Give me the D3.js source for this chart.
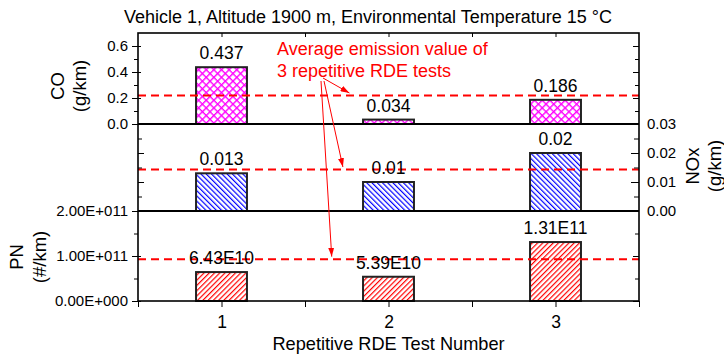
<!DOCTYPE html>
<html>
<head>
<meta charset="utf-8">
<script src="https://cdn.jsdelivr.net/npm/d3@7"></script>
<style>
  body { margin: 0; background: #fff; }
  text { font-family: "Liberation Sans", Arial, sans-serif; }
</style>
</head>
<body>
<div id="chart"></div>
<script>
// data
var testNumbers = [1, 2, 3];
var coValues = [0.437, 0.034, 0.186];
var noxValues = [0.013, 0.01, 0.02];
var pnValues = [6.43e10, 5.39e10, 1.31e11];
var coLabels = ["0.437", "0.034", "0.186"];
var noxLabels = ["0.013", "0.01", "0.02"];
var pnLabels = ["6.43E10", "5.39E10", "1.31E11"];
var averageValues = [0.219, 0.0143, 9.3e10];
var coTicks = [0, 0.2, 0.4, 0.6];
var noxTicks = [0, 0.01, 0.02, 0.03];
var pnTicks = [0, 1e11, 2e11];

var width = 724, height = 355;
var left = 138, right = 639;

var sci = function(v) {
    if (v === 0) return "0.00E+000";
    var e = Math.floor(Math.log10(v));
    return (v / Math.pow(10, e)).toFixed(2) + "E+" + String(e).padStart(3, "0");
};

var panels = [
    { id: "co", values: coValues, labels: coLabels, avg: averageValues[0], top: 33, bottom: 124,
      domain: [0, 0.7], ticks: coTicks, minor: [0.1, 0.3, 0.5], fmt: d3.format(".1f"), side: "left",
      pattern: "hatchCO", title: ["CO", "(g/km)"], titleX: [57, 79], titleY: 86 },
    { id: "nox", values: noxValues, labels: noxLabels, avg: averageValues[1], top: 124, bottom: 211,
      domain: [0, 0.03], ticks: noxTicks, minor: [0.005, 0.015, 0.025], fmt: d3.format(".2f"), side: "right",
      pattern: "hatchNOx", title: ["NOx", "(g/km)"], titleX: [692, 714], titleY: 166 },
    { id: "pn", values: pnValues, labels: pnLabels, avg: averageValues[2], top: 211, bottom: 301,
      domain: [0, 2e11], ticks: pnTicks, minor: [0.5e11, 1.5e11], fmt: sci, side: "left",
      pattern: "hatchPN", title: ["PN", "(#/km)"], titleX: [16, 39], titleY: 257 }
];

var svg = d3.select("#chart").append("svg")
    .attr("width", width)
    .attr("height", height);

var defs = svg.append("defs");

// hatch fills
var cross = defs.append("pattern")
    .attr("id", "hatchCO")
    .attr("patternUnits", "userSpaceOnUse")
    .attr("width", 5.4).attr("height", 5.4)
    .attr("patternTransform", "rotate(45)");
cross.append("rect").attr("width", 5.4).attr("height", 5.4).attr("fill", "#fff");
cross.append("path").attr("d", "M0,0 H5.4 M0,0 V5.4").attr("stroke", "#ff00ff").attr("stroke-width", 2.8);

var stripes = function(id, color, angle) {
    var p = defs.append("pattern")
        .attr("id", id)
        .attr("patternUnits", "userSpaceOnUse")
        .attr("width", 3.7).attr("height", 4)
        .attr("patternTransform", "rotate(" + angle + ")");
    p.append("rect").attr("width", 3.7).attr("height", 4).attr("fill", "#fff");
    p.append("path").attr("d", "M0,0 V4").attr("stroke", color).attr("stroke-width", 2.4);
};
stripes("hatchNOx", "#0000ff", -45);
stripes("hatchPN", "#ff0000", 45);

defs.append("marker")
    .attr("id", "arrow")
    .attr("markerUnits", "userSpaceOnUse")
    .attr("markerWidth", 9).attr("markerHeight", 6)
    .attr("refX", 9).attr("refY", 3)
    .attr("orient", "auto")
    .append("path")
    .attr("d", "M0,0 L9,3 L0,6 z")
    .attr("fill", "#ff0000");

var x = d3.scaleLinear().domain([0.5, 3.5]).range([left, right]);
var barW = (x(2) - x(1)) * 0.305;

svg.append("text")
    .attr("x", 368)
    .attr("y", 23)
    .attr("text-anchor", "middle")
    .attr("font-size", 18)
    .text("Vehicle 1, Altitude 1900 m, Environmental Temperature 15 \u00B0C");

var ticks = function(g, axisFn, xpos, values, size, fmt) {
    var a = g.append("g")
        .attr("transform", "translate(" + xpos + ",0)")
        .call(axisFn.tickValues(values).tickFormat(fmt || "").tickSize(size).tickSizeOuter(0));
    a.select(".domain").remove();
    return a;
};

panels.forEach(function(p) {
    var y = d3.scaleLinear().domain(p.domain).range([p.bottom, p.top]);
    p.y = y;
    var g = svg.append("g").attr("class", p.id);

    g.selectAll("rect.bar").data(p.values).enter().append("rect")
        .attr("class", "bar")
        .attr("x", function(d, i) { return x(testNumbers[i]) - barW / 2; })
        .attr("y", function(d) { return y(d); })
        .attr("width", barW)
        .attr("height", function(d) { return y(0) - y(d); })
        .attr("fill", "url(#" + p.pattern + ")")
        .attr("stroke", "#222")
        .attr("stroke-width", 2);

    g.append("line")
        .attr("x1", left).attr("x2", right)
        .attr("y1", y(p.avg)).attr("y2", y(p.avg))
        .attr("stroke", "#ff0000")
        .attr("stroke-width", 2)
        .attr("stroke-dasharray", "8,5");

    g.selectAll("text.val").data(p.labels).enter().append("text")
        .attr("class", "val")
        .attr("x", function(d, i) { return x(testNumbers[i]); })
        .attr("y", function(d, i) { return y(p.values[i]) - 8; })
        .attr("text-anchor", "middle")
        .attr("font-size", 17.5)
        .text(function(d) { return d; });

    if (p.side == "left") {
        // labelled left axis: major ticks cross the line, minor point out
        var ax = ticks(g, d3.axisLeft(y), left, p.ticks, 6, p.fmt);
        ax.selectAll("text").attr("font-size", 15).attr("fill", "#000").attr("x", -10);
        ticks(g, d3.axisRight(y), left, p.ticks, 3);
        ticks(g, d3.axisLeft(y), left, p.minor, 4);
        ticks(g, d3.axisLeft(y), right, p.ticks, 6);
        ticks(g, d3.axisLeft(y), right, p.minor, 4);
    } else {
        var ar = ticks(g, d3.axisLeft(y), right, p.ticks, 8, p.fmt);
        ar.selectAll("text").attr("font-size", 15).attr("fill", "#000")
            .attr("text-anchor", "start").attr("x", 8);
        ticks(g, d3.axisLeft(y), right, p.minor, 5);
        ticks(g, d3.axisRight(y), left, p.ticks, 6);
        ticks(g, d3.axisRight(y), left, p.minor, 4);
    }

    p.title.forEach(function(t, i) {
        svg.append("text")
            .attr("transform", "translate(" + p.titleX[i] + "," + p.titleY + ") rotate(-90)")
            .attr("text-anchor", "middle")
            .attr("dominant-baseline", "central")
            .attr("font-size", 18.5)
            .text(t);
    });
});

// frame and panel separators
svg.append("rect")
    .attr("x", left).attr("y", panels[0].top)
    .attr("width", right - left).attr("height", panels[2].bottom - panels[0].top)
    .attr("fill", "none").attr("stroke", "#000").attr("stroke-width", 1.6);
[panels[0].bottom, panels[1].bottom].forEach(function(yy) {
    svg.append("line")
        .attr("x1", left).attr("x2", right)
        .attr("y1", yy).attr("y2", yy)
        .attr("stroke", "#000").attr("stroke-width", 2.2);
});

// x axes
var xb = svg.append("g")
    .attr("transform", "translate(0," + panels[2].bottom + ")")
    .call(d3.axisBottom(x).tickValues(testNumbers).tickFormat(d3.format("d")).tickSize(6).tickSizeOuter(0));
xb.select(".domain").remove();
xb.selectAll("text").attr("font-size", 17.5).attr("dy", "1.05em");
var xm = svg.append("g")
    .attr("transform", "translate(0," + panels[2].bottom + ")")
    .call(d3.axisBottom(x).tickValues([0.5, 1.5, 2.5, 3.5]).tickFormat("").tickSize(6).tickSizeOuter(0));
xm.select(".domain").remove();
var xt = svg.append("g")
    .attr("transform", "translate(0," + panels[0].top + ")")
    .call(d3.axisBottom(x).tickValues([1, 1.5, 2, 2.5, 3]).tickFormat("").tickSize(4).tickSizeOuter(0));
xt.select(".domain").remove();

svg.append("text")
    .attr("x", (left + right) / 2)
    .attr("y", 350)
    .attr("text-anchor", "middle")
    .attr("font-size", 18.2)
    .text("Repetitive RDE Test Number");

// annotation
var note = svg.append("text")
    .attr("x", 277).attr("y", 55)
    .attr("fill", "#ff0000")
    .attr("font-size", 18);
note.append("tspan").attr("x", 277).text("Average emission value of");
note.append("tspan").attr("x", 277).attr("dy", 22).text("3 repetitive RDE tests");

var arrows = [
    { panel: 0, from: [323, 78], at: 1.766 },
    { panel: 1, from: [324, 81], at: 1.727 },
    { panel: 2, from: [321, 81], at: 1.66 }
];
arrows.forEach(function(a) {
    var p = panels[a.panel];
    svg.append("line")
        .attr("x1", a.from[0]).attr("y1", a.from[1])
        .attr("x2", x(a.at)).attr("y2", p.y(p.avg) - 2.5)
        .attr("stroke", "#ff0000")
        .attr("stroke-width", 1)
        .attr("marker-end", "url(#arrow)");
});
</script>
</body>
</html>
